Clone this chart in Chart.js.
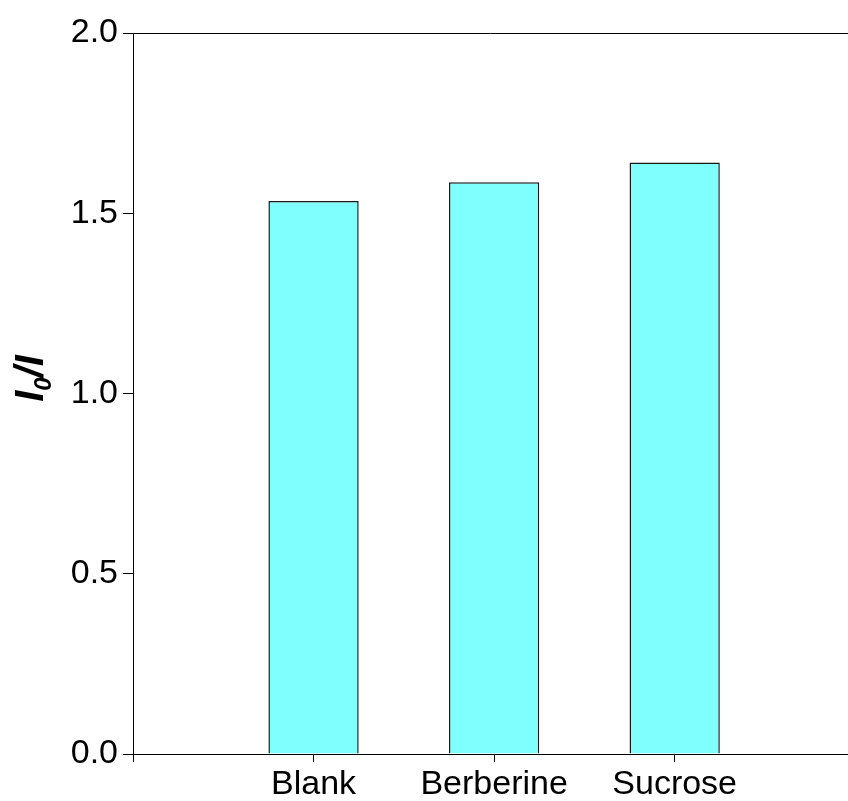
<!DOCTYPE html>
<html>
<head>
<meta charset="utf-8">
<script src="https://cdn.jsdelivr.net/npm/chart.js@4.4.0/dist/chart.umd.min.js"></script>
<style>
  html, body { margin: 0; padding: 0; background: #fff; overflow: hidden; }
  #wrap { width: 848px; height: 801px; }
</style>
</head>
<body>
<div id="wrap"><canvas id="c" width="848" height="801"></canvas></div>
<script>
// Samples and their I0/I intensity ratios
const categories = ['Blank', 'Berberine', 'Sucrose'];
const positions = [1, 2, 3];
const ratios = [1.534, 1.586, 1.641];
const yTickValues = [0, 0.5, 1.0, 1.5, 2.0];
const xTickValues = [0, 1, 2, 3];

const FONT = '"Liberation Sans", Arial, Helvetica, sans-serif';

// Top frame line and the I0/I axis title with a subscript
const frameAndTitle = {
  id: 'frameAndTitle',
  afterDraw(chart) {
    const { ctx, chartArea: a } = chart;
    ctx.save();
    ctx.strokeStyle = '#000';
    ctx.lineWidth = 1;
    const yTop = Math.round(a.top) + 0.5;
    ctx.beginPath();
    ctx.moveTo(a.left, yTop);
    ctx.lineTo(chart.width, yTop);
    ctx.stroke();

    const big = 'italic bold 40px ' + FONT;
    const small = 'italic bold 24px ' + FONT;
    ctx.font = big;
    const wI = ctx.measureText('I').width;
    const wRest = ctx.measureText('/I').width;
    ctx.font = small;
    const w0 = ctx.measureText('0').width;
    const total = wI + w0 + wRest;
    const cy = (a.top + a.bottom) / 2 - 15;
    ctx.translate(43, cy + total / 2);
    ctx.rotate(-Math.PI / 2);
    ctx.fillStyle = '#000';
    ctx.textBaseline = 'alphabetic';
    ctx.textAlign = 'left';
    ctx.font = big;
    ctx.fillText('I', 0, 0);
    ctx.font = small;
    ctx.fillText('0', wI, 8);
    ctx.font = big;
    ctx.fillText('/I', wI + w0, 0);
    ctx.restore();
  }
};

new Chart(document.getElementById('c'), {
  type: 'bar',
  data: {
    datasets: [{
      data: positions.map((p, i) => ({ x: p, y: ratios[i] })),
      backgroundColor: '#80FFFF',
      borderColor: '#1a1a1a',
      borderWidth: 1.5,
      categoryPercentage: 1.0,
      barPercentage: 0.5
    }]
  },
  options: {
    responsive: false,
    animation: false,
    devicePixelRatio: 1,
    layout: { padding: { top: 33, right: 0, bottom: 0, left: 0 } },
    plugins: { legend: { display: false }, tooltip: { enabled: false } },
    scales: {
      x: {
        type: 'linear',
        offset: false,
        min: 0,
        max: 3.96,
        afterBuildTicks(scale) { scale.ticks = xTickValues.map(v => ({ value: v })); },
        afterFit(scale) { scale.height = 47; },
        grid: { display: true, offset: false, drawOnChartArea: false, drawTicks: true, tickLength: 8, color: '#000', lineWidth: 1 },
        border: { display: true, color: '#000', width: 1 },
        ticks: {
          padding: 2,
          color: '#000',
          font: { family: FONT, size: 34 },
          maxRotation: 0,
          autoSkip: false,
          callback: (v) => (v >= 1 && v <= categories.length ? categories[v - 1] : '')
        }
      },
      y: {
        min: 0,
        max: 2,
        afterBuildTicks(scale) { scale.ticks = yTickValues.map(v => ({ value: v })); },
        afterFit(scale) { scale.width = 133; },
        grid: { display: true, drawOnChartArea: false, drawTicks: true, tickLength: 10, color: '#000', lineWidth: 1 },
        border: { display: true, color: '#000', width: 1 },
        ticks: {
          padding: 5,
          color: '#000',
          font: { family: FONT, size: 34 },
          callback: (v) => Number(v).toFixed(1)
        }
      }
    }
  },
  plugins: [frameAndTitle]
});
</script>
</body>
</html>
